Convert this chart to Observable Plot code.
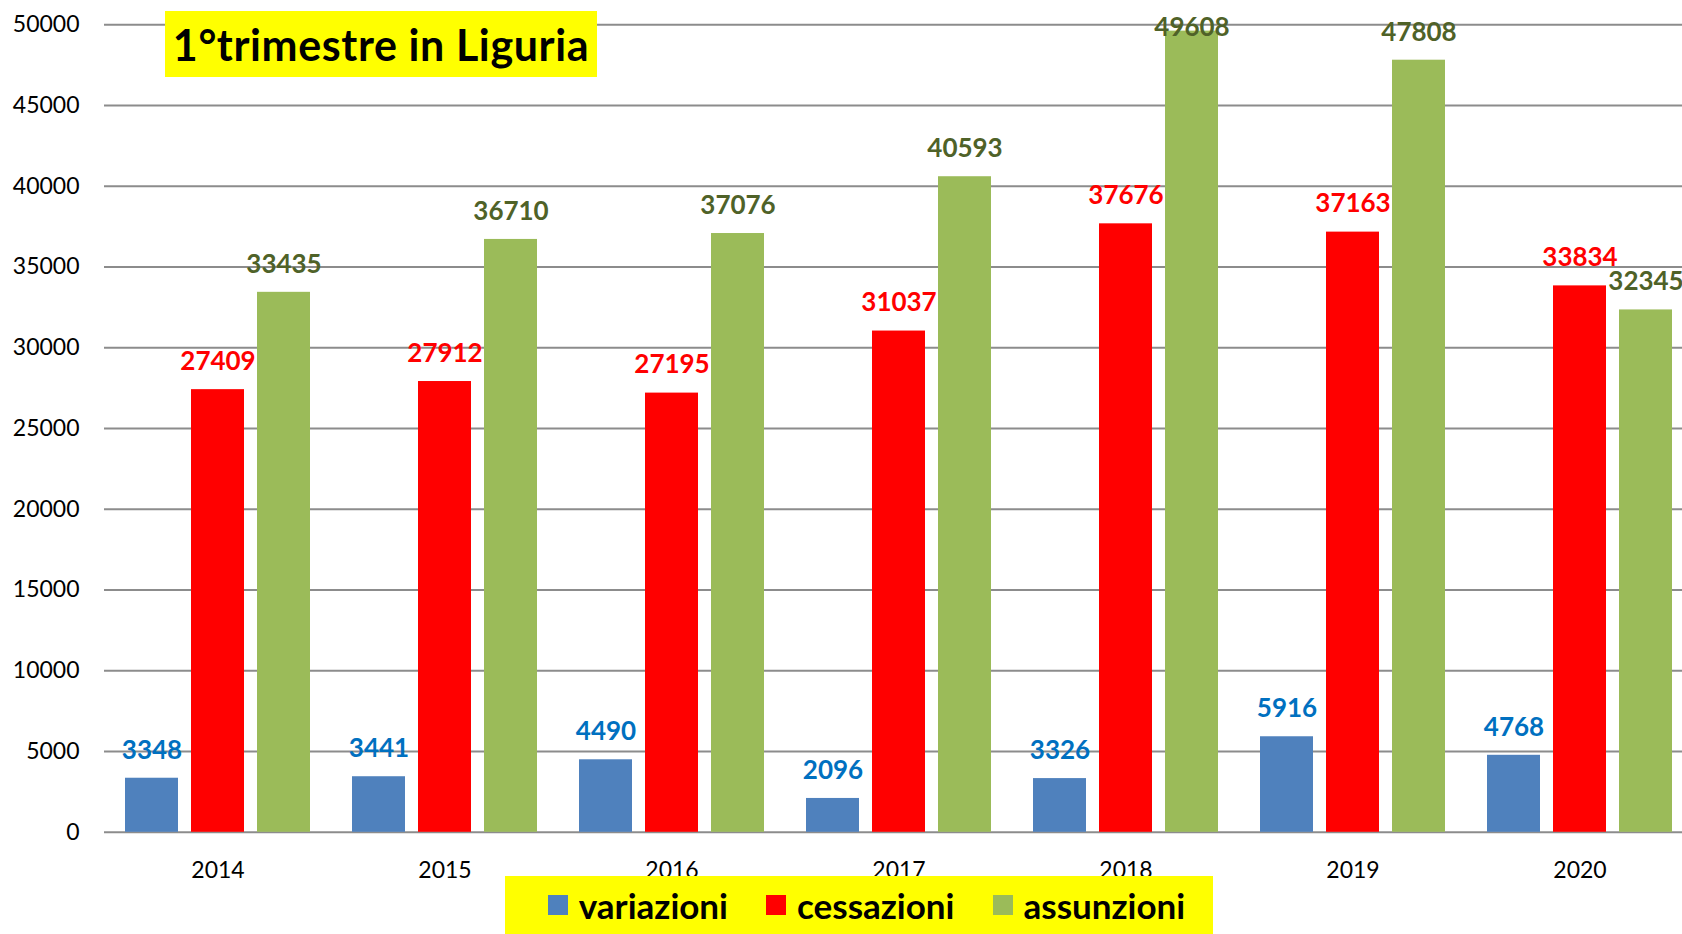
<!DOCTYPE html>
<html>
<head>
<meta charset="utf-8">
<script src="https://cdn.jsdelivr.net/npm/d3@7"></script>
<script src="https://cdn.jsdelivr.net/npm/@observablehq/plot@0.6"></script>
<style>
  html, body { margin: 0; padding: 0; background: #fff; overflow: hidden; }
  #wrap { position: relative; width: 1682px; height: 934px; overflow: hidden; font-family: Lato, "Open Sans", sans-serif; }
  #wrap svg { max-width: none; position: absolute; left: 0; top: 0; }
  #title { position: absolute; left: 165px; top: 11px; width: 432px; height: 66px; background: #ffff00;
    font: 700 43px Lato, sans-serif; color: #000; display: flex; align-items: center; justify-content: center; letter-spacing: 0.6px; white-space: nowrap; }
  #legend { position: absolute; left: 505px; top: 876px; width: 708px; height: 58px; background: #ffff00; box-sizing: border-box; padding-left: 15px;
    display: flex; align-items: center; justify-content: center; gap: 0; font: 700 35px Lato, sans-serif; color: #000; white-space: nowrap; }
  #legend .it { display: flex; align-items: center; margin: 0 19px; }
  #legend .sw { width: 20px; height: 20px; margin-right: 11px; }
</style>
</head>
<body>
<div id="wrap">
  <div id="chart"></div>
  <div id="title">1°trimestre in Liguria</div>
  <div id="legend"></div>
</div>
<script>
const years = ["2014", "2015", "2016", "2017", "2018", "2019", "2020"];
const seriesNames = ["variazioni", "cessazioni", "assunzioni"];
const variazioni = [3348, 3441, 4490, 2096, 3326, 5916, 4768];
const cessazioni = [27409, 27912, 27195, 31037, 37676, 37163, 33834];
const assunzioni = [33435, 36710, 37076, 40593, 49608, 47808, 32345];
const yTicks = [0, 5000, 10000, 15000, 20000, 25000, 30000, 35000, 40000, 45000, 50000];

const barColors = ["#4F81BD", "#FF0000", "#9BBB59"];
const labelColors = ["#0070C0", "#FF0000", "#4F6228"];

const seriesValues = [variazioni, cessazioni, assunzioni];
const data = [];
years.forEach((yr, i) => {
  seriesNames.forEach((s, j) => data.push({year: yr, series: s, value: seriesValues[j][i]}));
});

const W = 1693, H = 934;
const chart = Plot.plot({
  width: W,
  height: H,
  marginLeft: 104,
  marginRight: 0,
  marginTop: 24.3,
  marginBottom: H - 831.8,
  style: {background: "transparent", overflow: "visible"},
  fx: {domain: years, padding: 0, label: null, axis: null},
  x: {domain: seriesNames, paddingInner: 0.195, paddingOuter: 0.304, axis: null},
  y: {domain: [0, 50000], ticks: yTicks, label: null, axis: null},
  color: {domain: seriesNames, range: barColors},
  marks: [
    Plot.ruleY(yTicks, {stroke: "#8c8c8c", strokeOpacity: 1, strokeWidth: 2}),
    Plot.axisY(yTicks, {tickSize: 0, tickPadding: 0, dx: -25, fontSize: 23, fill: "#000", label: null,
      tickFormat: d => String(d), fontFamily: "Lato"}),
    Plot.barY(data, {fx: "year", x: "series", y: "value", fill: "series", inset: 0}),
    Plot.text(data, {fx: "year", x: "series", y: d => Math.min(d.value, 48100), text: d => String(d.value),
      dy: -28, fill: d => labelColors[seriesNames.indexOf(d.series)], fontWeight: "bold", fontSize: 26,
      fontFamily: "Lato", lineAnchor: "middle"}),
    Plot.axisFx({anchor: "bottom", tickSize: 0, tickPadding: 0, dy: 29, fontSize: 23, fill: "#000",
      label: null, fontFamily: "Lato"})
  ]
});
document.getElementById("chart").appendChild(chart);

const legend = document.getElementById("legend");
seriesNames.forEach((s, j) => {
  const it = document.createElement("div");
  it.className = "it";
  const sw = document.createElement("div");
  sw.className = "sw";
  sw.style.background = barColors[j];
  const tx = document.createElement("span");
  tx.textContent = s;
  it.appendChild(sw);
  it.appendChild(tx);
  legend.appendChild(it);
});
</script>
</body>
</html>
